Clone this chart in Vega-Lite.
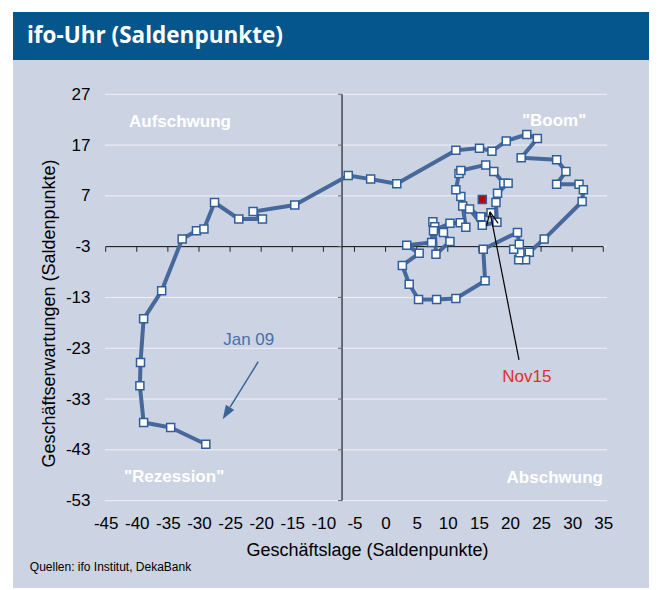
{
  "$schema": "https://vega.github.io/schema/vega-lite/v6.json",
  "background": "white",
  "padding": {"left": 13, "top": 12, "right": 11, "bottom": 2},
  "spacing": 0,
  "config": {"font": "Liberation Sans", "view": {"stroke": null}, "concat": {"spacing": 0}},
  "datasets": {
    "series": [
      {"i": 1, "x": -28.9, "y": -41.9}, {"i": 2, "x": -34.55, "y": -38.6}, {"i": 3, "x": -38.9, "y": -37.6},
      {"i": 4, "x": -39.5, "y": -30.4}, {"i": 5, "x": -39.4, "y": -25.8}, {"i": 6, "x": -38.9, "y": -17.2},
      {"i": 7, "x": -36.0, "y": -11.7}, {"i": 8, "x": -32.7, "y": -1.5}, {"i": 9, "x": -30.4, "y": 0.15},
      {"i": 10, "x": -29.2, "y": 0.5}, {"i": 11, "x": -27.5, "y": 5.7}, {"i": 12, "x": -23.6, "y": 2.45},
      {"i": 13, "x": -19.8, "y": 2.45}, {"i": 14, "x": -21.3, "y": 3.9}, {"i": 15, "x": -14.6, "y": 5.2},
      {"i": 16, "x": -6.0, "y": 11.0}, {"i": 17, "x": -2.4, "y": 10.3}, {"i": 18, "x": 1.8, "y": 9.4},
      {"i": 19, "x": 11.3, "y": 16.0}, {"i": 20, "x": 15.1, "y": 16.4}, {"i": 21, "x": 17.1, "y": 15.8},
      {"i": 22, "x": 19.4, "y": 17.8}, {"i": 23, "x": 22.7, "y": 19.1}, {"i": 24, "x": 24.4, "y": 18.3},
      {"i": 25, "x": 21.8, "y": 14.5}, {"i": 26, "x": 27.5, "y": 14.1}, {"i": 27, "x": 29.0, "y": 11.8},
      {"i": 28, "x": 27.5, "y": 9.3}, {"i": 29, "x": 31.1, "y": 9.3}, {"i": 30, "x": 31.8, "y": 8.2},
      {"i": 31, "x": 31.6, "y": 5.9}, {"i": 32, "x": 25.5, "y": -1.5}, {"i": 33, "x": 23.1, "y": -4.1},
      {"i": 34, "x": 22.5, "y": -5.6}, {"i": 35, "x": 21.4, "y": -5.6}, {"i": 36, "x": 21.6, "y": -4.2},
      {"i": 37, "x": 20.6, "y": -3.5}, {"i": 38, "x": 21.5, "y": -2.5}, {"i": 39, "x": 21.2, "y": -0.2},
      {"i": 40, "x": 15.7, "y": -3.5}, {"i": 41, "x": 16.0, "y": -9.7}, {"i": 42, "x": 11.3, "y": -13.2},
      {"i": 43, "x": 8.2, "y": -13.4}, {"i": 44, "x": 5.3, "y": -13.4}, {"i": 45, "x": 3.8, "y": -10.4},
      {"i": 46, "x": 2.7, "y": -6.7}, {"i": 47, "x": 5.4, "y": -4.3}, {"i": 48, "x": 3.4, "y": -2.7},
      {"i": 49, "x": 7.4, "y": -2.2}, {"i": 50, "x": 7.6, "y": 1.9}, {"i": 51, "x": 7.9, "y": 0.9},
      {"i": 52, "x": 8.1, "y": -4.5}, {"i": 53, "x": 10.35, "y": -2.0}, {"i": 54, "x": 9.3, "y": -0.2},
      {"i": 55, "x": 7.7, "y": 0.15}, {"i": 56, "x": 10.35, "y": 1.6}, {"i": 57, "x": 12.0, "y": 1.7},
      {"i": 58, "x": 12.9, "y": 0.8}, {"i": 59, "x": 12.4, "y": 5.0}, {"i": 60, "x": 12.1, "y": 6.9},
      {"i": 61, "x": 11.3, "y": 8.2}, {"i": 62, "x": 11.8, "y": 11.4}, {"i": 63, "x": 12.1, "y": 12.0},
      {"i": 64, "x": 16.1, "y": 13.1}, {"i": 65, "x": 17.4, "y": 11.8}, {"i": 66, "x": 19.0, "y": 9.5},
      {"i": 67, "x": 19.7, "y": 9.5}, {"i": 68, "x": 18.0, "y": 7.5}, {"i": 69, "x": 17.75, "y": 5.7},
      {"i": 70, "x": 17.9, "y": 1.8}, {"i": 71, "x": 15.55, "y": 1.2}, {"i": 72, "x": 13.5, "y": 4.4},
      {"i": 73, "x": 15.3, "y": 2.9}, {"i": 74, "x": 16.95, "y": 3.7}
    ],
    "red": [{"x": 15.55, "y": 6.3}],
    "xt": [{"v": -45}, {"v": -40}, {"v": -35}, {"v": -30}, {"v": -25}, {"v": -20}, {"v": -15}, {"v": -10}, {"v": -5}, {"v": 0}, {"v": 5}, {"v": 10}, {"v": 15}, {"v": 20}, {"v": 25}, {"v": 30}, {"v": 35}],
    "yt": [{"v": 27}, {"v": 17}, {"v": 7}, {"v": -3}, {"v": -13}, {"v": -23}, {"v": -33}, {"v": -43}, {"v": -53}]
  },
  "vconcat": [
    {
      "width": 636,
      "height": 48,
      "view": {"fill": "#04568C", "stroke": null},
      "data": {"values": [{"t": "ifo-Uhr (Saldenpunkte)"}]},
      "mark": {"type": "text", "align": "left", "baseline": "middle", "color": "white", "font": "Open Sans", "fontWeight": "bold", "fontSize": 22.5, "dx": 14},
      "encoding": {
        "text": {"field": "t"},
        "x": {"datum": 0, "type": "quantitative", "scale": {"domain": [0, 1], "nice": false}, "axis": null}
      }
    },
    {
      "width": 636,
      "height": 528,
      "view": {"fill": "#CCD3E3", "stroke": null},
      "data": {"values": [{}]},
      "resolve": {"axis": {"x": "independent", "y": "independent"}},
      "layer": [
        {
          "data": {"name": "yt"},
          "mark": {"type": "rule", "color": "#EEF1F7", "strokeWidth": 1},
          "encoding": {
            "y": {"field": "v", "type": "quantitative",
              "scale": {"domain": [-70.2, 33.75], "nice": false, "zero": false},
              "axis": {"orient": "left", "offset": -81, "values": [27, 17, 7, -3, -13, -23, -33, -43, -53], "labelExpr": "'' + datum.value", "domain": false, "ticks": false, "tickSize": 0, "grid": false, "labelFontSize": 17, "labelPadding": 4, "labelColor": "black", "title": "Geschäftserwartungen (Saldenpunkte)", "titleFontSize": 18, "titleFontWeight": "normal", "titleColor": "black", "titleX": -45, "titleY": 253, "titleAngle": -90, "titleAlign": "center", "titleBaseline": "middle"}},
            "x": {"datum": -45.1, "type": "quantitative",
              "scale": {"domain": [-59.9, 42.35], "nice": false, "zero": false},
              "axis": {"orient": "bottom", "offset": -75, "values": [-45, -40, -35, -30, -25, -20, -15, -10, -5, 0, 5, 10, 15, 20, 25, 30, 35], "labelExpr": "'' + datum.value", "domain": false, "ticks": false, "tickSize": 0, "grid": false, "labelFontSize": 17, "labelPadding": 2, "labelColor": "black", "labelFlush": false, "labelOverlap": false, "title": "Geschäftslage (Saldenpunkte)", "titleFontSize": 18, "titleFontWeight": "normal", "titleColor": "black", "titleX": 354, "titleY": 37, "titleAlign": "center", "titleBaseline": "middle"}},
            "x2": {"datum": 35.6}
          }
        },
        {
          "mark": {"type": "rule", "color": "black", "strokeWidth": 1},
          "encoding": {"x": {"datum": -7, "type": "quantitative", "axis": null}, "y": {"datum": 27, "type": "quantitative", "axis": null}, "y2": {"datum": -53}}
        },
        {
          "mark": {"type": "rule", "color": "black", "strokeWidth": 1},
          "encoding": {"y": {"datum": -3, "type": "quantitative", "axis": null}, "x": {"datum": -45, "type": "quantitative", "axis": null}, "x2": {"datum": 35}}
        },
        {
          "data": {"name": "xt"},
          "mark": {"type": "rule", "color": "#222222", "strokeWidth": 1},
          "encoding": {"x": {"field": "v", "type": "quantitative", "axis": null}, "y": {"datum": -3, "type": "quantitative", "axis": null}, "y2": {"datum": -4.0}}
        },
        {
          "data": {"name": "yt"},
          "mark": {"type": "rule", "color": "#666666", "strokeWidth": 1},
          "encoding": {"y": {"field": "v", "type": "quantitative", "axis": null}, "x": {"datum": -7.65, "type": "quantitative", "axis": null}, "x2": {"datum": -7}}
        },
        {
          "data": {"name": "series"},
          "mark": {"type": "line", "color": "#47689A", "strokeWidth": 4, "strokeJoin": "round", "strokeCap": "round"},
          "encoding": {"x": {"field": "x", "type": "quantitative", "axis": null}, "y": {"field": "y", "type": "quantitative", "axis": null}, "order": {"field": "i"}}
        },
        {
          "data": {"name": "series"},
          "mark": {"type": "point", "shape": "square", "filled": true, "fill": "white", "stroke": "#2E5E9B", "strokeWidth": 1.5, "size": 64, "opacity": 1},
          "encoding": {"x": {"field": "x", "type": "quantitative", "axis": null}, "y": {"field": "y", "type": "quantitative", "axis": null}}
        },
        {
          "data": {"name": "red"},
          "mark": {"type": "point", "shape": "square", "filled": true, "fill": "#C00000", "stroke": "#2E5E9B", "strokeWidth": 1.5, "size": 64, "opacity": 1},
          "encoding": {"x": {"field": "x", "type": "quantitative", "axis": null}, "y": {"field": "y", "type": "quantitative", "axis": null}}
        },
        {
          "mark": {"type": "rule", "color": "#3A6497", "strokeWidth": 1.5},
          "encoding": {"x": {"datum": -20.47, "type": "quantitative", "axis": null}, "y": {"datum": -25.64, "type": "quantitative", "axis": null}, "x2": {"datum": -25.0}, "y2": {"datum": -34.6}}
        },
        {
          "mark": {"type": "point", "shape": "M0,-1L0.7,1L-0.7,1Z", "angle": 211.7, "filled": true, "color": "#3A6497", "size": 196, "opacity": 1},
          "encoding": {"x": {"datum": -25.6, "type": "quantitative", "axis": null}, "y": {"datum": -35.8, "type": "quantitative", "axis": null}}
        },
        {
          "mark": {"type": "rule", "color": "black", "strokeWidth": 1.2},
          "encoding": {"x": {"datum": 21.45, "type": "quantitative", "axis": null}, "y": {"datum": -25.3, "type": "quantitative", "axis": null}, "x2": {"datum": 16.79}, "y2": {"datum": 3.83}}
        },
        {
          "mark": {"type": "rule", "color": "black", "strokeWidth": 1.2},
          "encoding": {"x": {"datum": 16.79, "type": "quantitative", "axis": null}, "y": {"datum": 3.83, "type": "quantitative", "axis": null}, "x2": {"datum": 16.24}, "y2": {"datum": 1.15}}
        },
        {
          "mark": {"type": "rule", "color": "black", "strokeWidth": 1.2},
          "encoding": {"x": {"datum": 16.79, "type": "quantitative", "axis": null}, "y": {"datum": 3.83, "type": "quantitative", "axis": null}, "x2": {"datum": 18.1}, "y2": {"datum": 1.6}}
        },
        {
          "mark": {"type": "text", "text": "Aufschwung", "color": "white", "fontWeight": "bold", "fontSize": 17, "align": "center", "baseline": "middle"},
          "encoding": {"x": {"datum": -33.05, "type": "quantitative", "axis": null}, "y": {"datum": 21.5, "type": "quantitative", "axis": null}}
        },
        {
          "mark": {"type": "text", "text": "\"Boom\"", "color": "white", "fontWeight": "bold", "fontSize": 17, "align": "center", "baseline": "middle"},
          "encoding": {"x": {"datum": 27.1, "type": "quantitative", "axis": null}, "y": {"datum": 21.7, "type": "quantitative", "axis": null}}
        },
        {
          "mark": {"type": "text", "text": "\"Rezession\"", "color": "white", "fontWeight": "bold", "fontSize": 17, "align": "center", "baseline": "middle"},
          "encoding": {"x": {"datum": -34.0, "type": "quantitative", "axis": null}, "y": {"datum": -48.3, "type": "quantitative", "axis": null}}
        },
        {
          "mark": {"type": "text", "text": "Abschwung", "color": "white", "fontWeight": "bold", "fontSize": 17, "align": "center", "baseline": "middle"},
          "encoding": {"x": {"datum": 27.2, "type": "quantitative", "axis": null}, "y": {"datum": -48.5, "type": "quantitative", "axis": null}}
        },
        {
          "mark": {"type": "text", "text": "Jan 09", "color": "#4A70A8", "fontSize": 17, "align": "center", "baseline": "middle"},
          "encoding": {"x": {"datum": -22.0, "type": "quantitative", "axis": null}, "y": {"datum": -21.4, "type": "quantitative", "axis": null}}
        },
        {
          "mark": {"type": "text", "text": "Nov15", "color": "#E0302A", "fontSize": 17, "align": "center", "baseline": "middle"},
          "encoding": {"x": {"datum": 22.7, "type": "quantitative", "axis": null}, "y": {"datum": -28.65, "type": "quantitative", "axis": null}}
        },
        {
          "mark": {"type": "text", "text": "Quellen: ifo Institut, DekaBank", "color": "black", "fontSize": 12, "align": "left", "baseline": "middle"},
          "encoding": {"x": {"datum": -57.2, "type": "quantitative", "axis": null}, "y": {"datum": -66.05, "type": "quantitative", "axis": null}}
        }
      ]
    }
  ]
}
